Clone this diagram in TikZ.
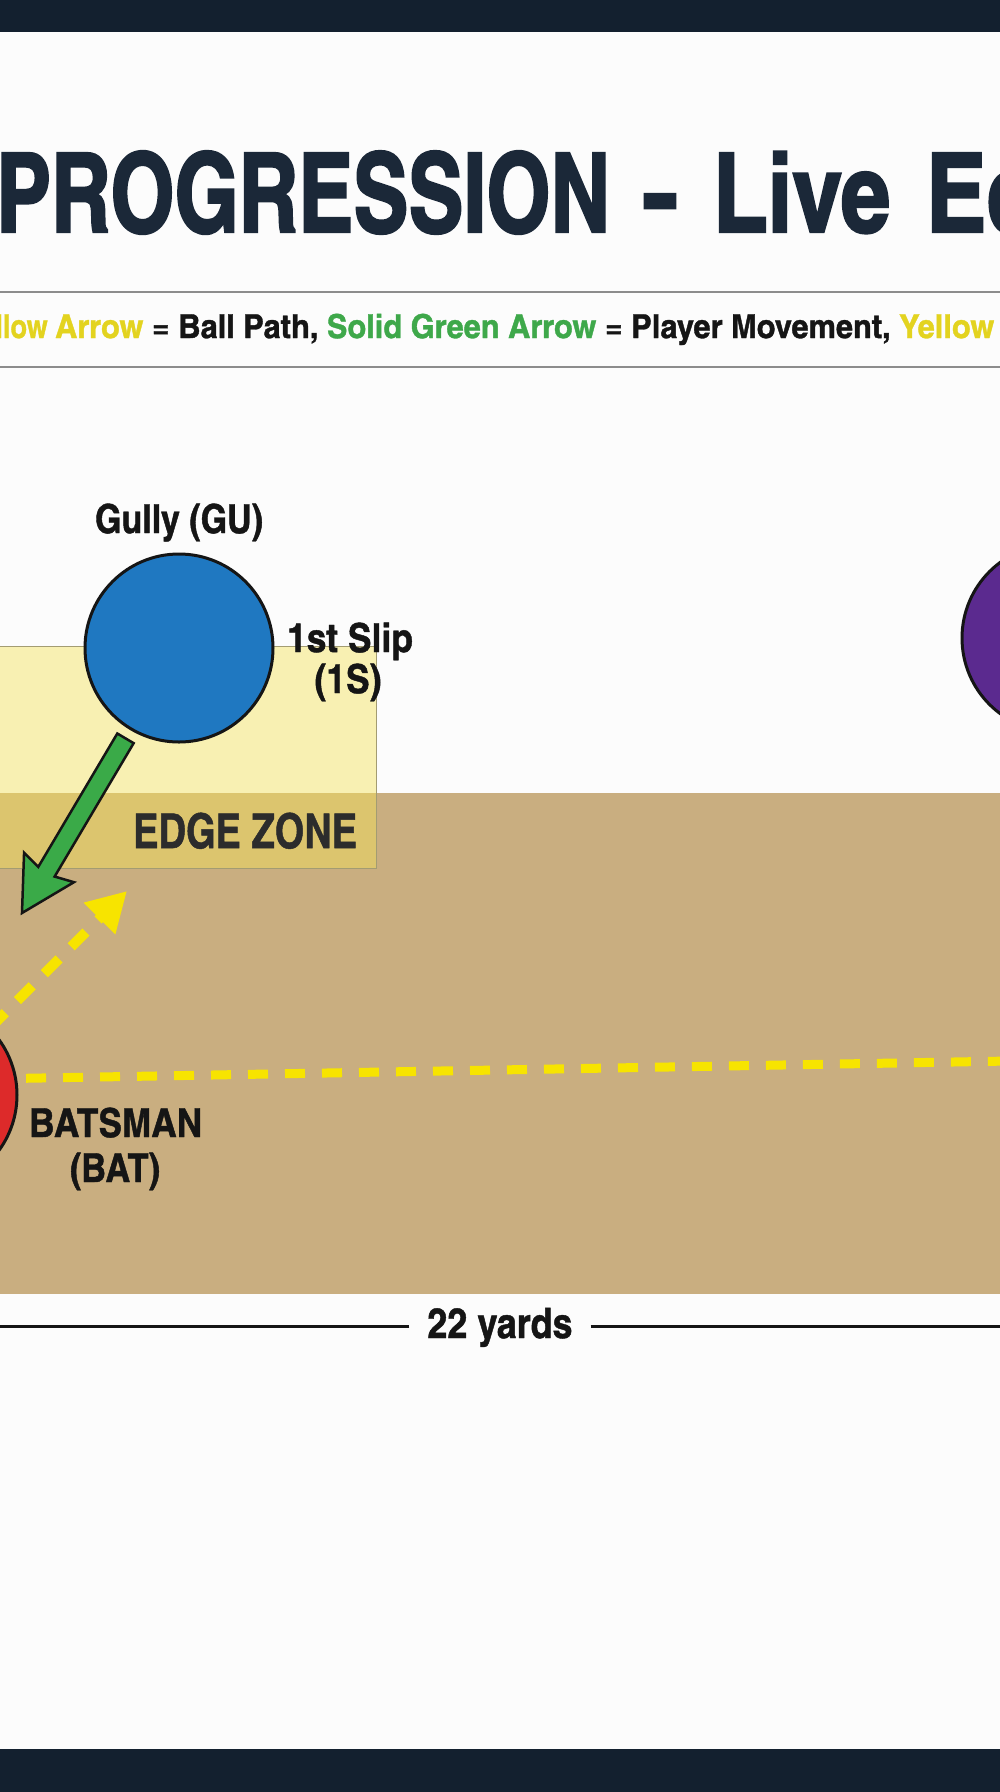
\documentclass[tikz,border=0pt]{standalone}
\usepackage{fontspec}
\usepackage{graphicx}
\usetikzlibrary{arrows.meta,calc}
\newfontfamily\cnb[FakeBold=1]{texgyreheroscn-bold.otf}
\newfontfamily\cnbt[FakeBold=2]{texgyreheroscn-bold.otf}
\definecolor{navy}{HTML}{13202F}
\definecolor{titlecol}{HTML}{1B2838}
\definecolor{legy}{HTML}{E3D31F}
\definecolor{legg}{HTML}{3EA84A}
\definecolor{rulegray}{HTML}{8C8C8C}
\definecolor{pitch}{HTML}{C9AE80}
\definecolor{zoney}{RGB}{244,227,89}
\definecolor{zoneline}{HTML}{A39C72}
\definecolor{gublue}{HTML}{1F78C1}
\definecolor{batred}{HTML}{DD2A2A}
\definecolor{bowlpurple}{HTML}{5B2A8F}
\definecolor{arrowgreen}{HTML}{3AAA48}
\definecolor{ballyellow}{HTML}{F7E400}
\definecolor{ink}{HTML}{151515}
\begin{document}
\begin{tikzpicture}[x=1pt,y=-1pt,
  player/.style={circle,draw=ink,line width=3pt,minimum size=188pt,inner sep=0pt},
  lbl/.style={inner sep=0pt,text=ink,font=\cnb\fontsize{40}{40}\selectfont},
  ttl/.style={inner sep=0pt,text=titlecol,font=\cnbt\fontsize{110}{110}\selectfont},
  ballpath/.style={draw=ballyellow,line width=9pt},
  zone/.style={fill=zoney,fill opacity=0.45,draw=zoneline,line width=1pt}]
\useasboundingbox (0,0) rectangle (1000,1792);
\clip (0,0) rectangle (1000,1792);
\fill[white!99!black] (0,0) rectangle (1000,1792);
% bars
\fill[navy] (0,0) rectangle (1000,32);
\fill[navy] (0,1749) rectangle (1000,1792);
% title (cropped at both sides, as in the reference)
\node[ttl,anchor=base west] (title1) at (-4,232) {\resizebox{614pt}{\height}{PROGRESSION}};
\node[ttl,anchor=base] (title2) at (660,232) {\resizebox{36pt}{\height}{-}};
\node[ttl,anchor=base west] (title3) at (713,232) {\resizebox{177pt}{\height}{Live}};
\node[ttl,anchor=base west] (title4) at (926,232) {\resizebox{222pt}{\height}{Edge}};
% legend rules
\draw[rulegray,line width=2.5pt] (0,292) -- (1000,292);
\draw[rulegray,line width=2.5pt] (0,367) -- (1000,367);
\node[anchor=base west,inner sep=0pt,text=ink,font=\cnb\fontsize{33}{33}\selectfont] (legend) at (55,338)
  {\llap{\textcolor{legy}{Yellow }}\resizebox{939pt}{\height}{\textcolor{legy}{Arrow} = Ball Path, \textcolor{legg}{Solid Green Arrow} = Player Movement, \textcolor{legy}{Yellow}}};
% pitch
\fill[pitch] (0,793) rectangle (1000,1294);
% edge zone
\filldraw[zone] (-5,646) rectangle (376,868);
\node[anchor=base west,inner sep=0pt,text=ink!90,font=\cnb\fontsize{48}{48}\selectfont] (ezlabel) at (133,848)
  {\resizebox{224pt}{\height}{EDGE ZONE}};
% players
\node[player,fill=gublue] (gu) at (179,648) {};
\node[player,fill=batred] (bat) at (-77,1095) {};
\node[player,fill=bowlpurple] (pu) at (1056,638) {};
% labels
\node[lbl,anchor=base] (gulbl) at (179,533) {\resizebox{168pt}{\height}{Gully (GU)}};
\node[lbl,anchor=base] (slip1) at (350,652) {\resizebox{126pt}{\height}{1st Slip}};
\node[lbl,anchor=base] (slip2) at (348,693) {\resizebox{67pt}{\height}{(1S)}};
\node[lbl,anchor=base west] (batlbl1) at (29,1137) {\resizebox{173pt}{\height}{BATSMAN}};
\node[lbl,anchor=base] (batlbl2) at (115,1182) {\resizebox{90pt}{\height}{(BAT)}};
% ball path straight
\coordinate (ballend) at (1010,1061);
\draw[ballpath,dash pattern=on 20pt off 17pt,shorten <=9pt] (bat.10) -- (ballend);
% edged ball path
\coordinate (edgetip) at (127,891);
\draw[ballpath,line width=10pt,dash pattern=on 21pt off 17pt,
  -{Triangle[length=39pt,width=42pt,fill=ballyellow]}] (bat.45) -- (edgetip);
% green movement arrow
\coordinate (gtip) at (22,913);
\coordinate (g0) at ($(gu.center)!105pt!(gtip)$);
\coordinate (gj) at ($(gtip)!48pt!(g0)$);
\coordinate (gc) at ($(gtip)!53pt!(g0)$);
\filldraw[fill=arrowgreen,draw=ink,line width=2.5pt,line join=miter]
  ($(g0)!9.5pt!90:(gtip)$) -- ($(gj)!9.5pt!-90:(g0)$) -- ($(gc)!29pt!-90:(g0)$) -- (gtip)
  -- ($(gc)!29pt!90:(g0)$) -- ($(gj)!9.5pt!90:(g0)$) -- ($(g0)!9.5pt!-90:(gtip)$) -- cycle;
% 22 yards
\node[lbl,anchor=base,inner xsep=18pt,font=\cnb\fontsize{42}{42}\selectfont] (yards) at (500,1338) {\resizebox{145pt}{\height}{22 yards}};
\coordinate (yl) at (0,1326);
\coordinate (yr) at (1000,1326);
\draw[ink,line width=3pt] (yards.west |- yl) -- (yl);
\draw[ink,line width=3pt] (yards.east |- yr) -- (yr);
\end{tikzpicture}
\end{document}
